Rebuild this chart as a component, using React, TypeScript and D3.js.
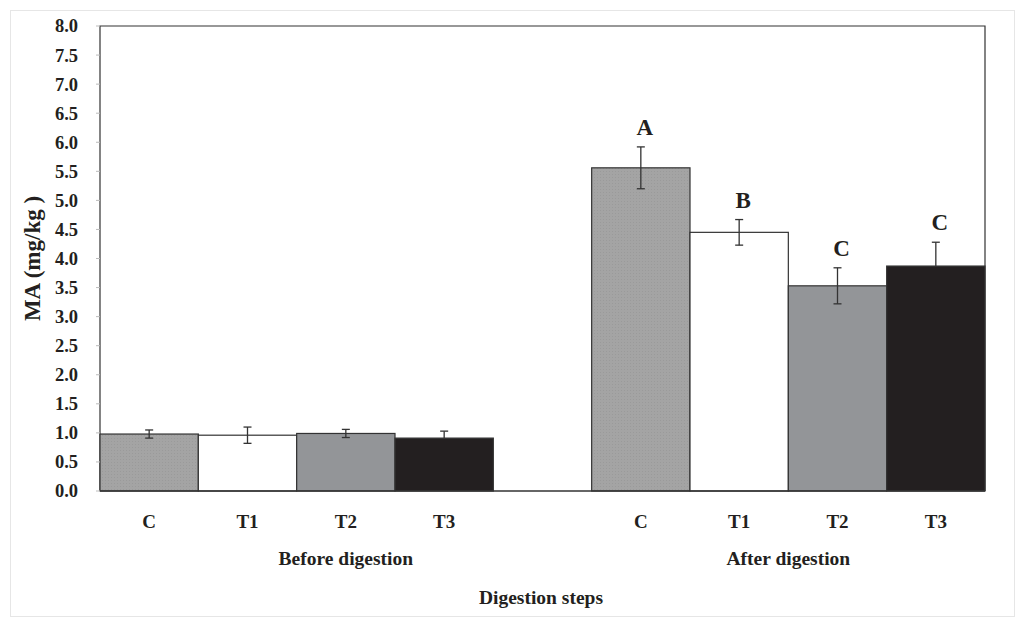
import React from "react";
import * as d3 from "d3";

const groups = ["Before digestion", "After digestion"];
const treatments = ["C", "T1", "T2", "T3"];
const beforeValues = [0.98, 0.96, 0.99, 0.91];
const beforeErrors = [0.07, 0.14, 0.07, 0.12];
const afterValues = [5.56, 4.45, 3.53, 3.87];
const afterErrors = [0.36, 0.22, 0.31, 0.41];
const afterLetters = ["A", "B", "C", "C"];
const fills = ["#a2a2a2", "#ffffff", "#939598", "#231f20"];
const yTicks = d3.range(0, 8.01, 0.5);

const W = 1024, H = 628;
const m = { left: 100, right: 985, top: 26, bottom: 491 };

export default function App() {
  const slots = d3.range(9).map(String);
  const x = d3.scaleBand().domain(slots).range([m.left, m.right]).padding(0);
  const y = d3.scaleLinear().domain([0, 8]).range([m.bottom, m.top]);
  const font = "'Liberation Serif', 'Times New Roman', serif";

  const bars: { slot: string; v: number; e: number; fill: string; t: string; letter?: string }[] = [];
  treatments.forEach((t, i) => bars.push({ slot: String(i), v: beforeValues[i], e: beforeErrors[i], fill: fills[i], t }));
  treatments.forEach((t, i) => bars.push({ slot: String(i + 5), v: afterValues[i], e: afterErrors[i], fill: fills[i], t, letter: afterLetters[i] }));

  const bw = x.bandwidth();
  const groupCenters = [x("2")! + bw / 2, x("6")! + bw];

  return (
    <svg width={W} height={H} style={{ position: "absolute", left: 0, top: 0, background: "#fff" }}>
      <defs>
        <pattern id="dots" width="3" height="3" patternUnits="userSpaceOnUse">
          <rect width="3" height="3" fill="#a4a4a4" />
          <rect width="1" height="1" fill="#9a9a9a" />
        </pattern>
      </defs>
      <rect x={10.5} y={10.5} width={1004} height={606} fill="none" stroke="#e6e6e6" strokeWidth={1} />
      <path d={`M${m.left},${m.bottom}V${m.top}H${m.right}V${m.bottom}`} fill="none" stroke="#333" strokeWidth={1.2} />
      {bars.map((b, i) => (
        <rect key={i} x={x(b.slot)!} y={y(b.v)} width={bw} height={y(0) - y(b.v)}
          fill={b.t === "C" ? "url(#dots)" : b.fill} stroke="#333" strokeWidth={1.2} />
      ))}
      {bars.map((b, i) => {
        const cx = x(b.slot)! + bw / 2;
        const lo = b.t === "T3" ? b.v : b.v - b.e;
        const hi = b.v + b.e;
        return (
          <g key={"e" + i} stroke="#333" strokeWidth={1.3}>
            <line x1={cx} x2={cx} y1={y(lo)} y2={y(hi)} />
            <line x1={cx - 4} x2={cx + 4} y1={y(hi)} y2={y(hi)} />
            {b.t !== "T3" && <line x1={cx - 4} x2={cx + 4} y1={y(lo)} y2={y(lo)} />}
          </g>
        );
      })}
      {bars.filter(b => b.letter).map((b, i) => (
        <text key={"l" + i} x={x(b.slot)! + bw / 2 + 4} y={y(b.v + b.e) - 12} textAnchor="middle"
          fontFamily={font} fontWeight="bold" fontSize={23} fill="#231f20">{b.letter}</text>
      ))}
      <line x1={m.left} x2={m.right} y1={m.bottom} y2={m.bottom} stroke="#333" strokeWidth={1.4} />
      {yTicks.map((t, i) => (
        <g key={"t" + i}>
          <line x1={m.left - 4} x2={m.left} y1={y(t)} y2={y(t)} stroke="#bbb" strokeWidth={1} />
          <text x={78} y={y(t)} dy="0.35em" textAnchor="end" fontFamily={font} fontWeight="bold" fontSize={18.5} fill="#231f20">
            {t.toFixed(1)}
          </text>
        </g>
      ))}
      {bars.map((b, i) => (
        <text key={"c" + i} x={x(b.slot)! + bw / 2} y={521} dy="0.35em" textAnchor="middle"
          fontFamily={font} fontWeight="bold" fontSize={19} fill="#231f20">{b.t}</text>
      ))}
      {groups.map((g, i) => (
        <text key={"g" + i} x={groupCenters[i]} y={558} dy="0.35em" textAnchor="middle"
          fontFamily={font} fontWeight="bold" fontSize={19.5} fill="#231f20">{g}</text>
      ))}
      <text x={541} y={597} dy="0.35em" textAnchor="middle" fontFamily={font} fontWeight="bold" fontSize={19.5} fill="#231f20">
        Digestion steps
      </text>
      <text transform={`translate(32,${(m.top + m.bottom) / 2}) rotate(-90)`} dy="0.35em" textAnchor="middle"
        fontFamily={font} fontWeight="bold" fontSize={23} fill="#231f20">MA (mg/kg )</text>
    </svg>
  );
}
